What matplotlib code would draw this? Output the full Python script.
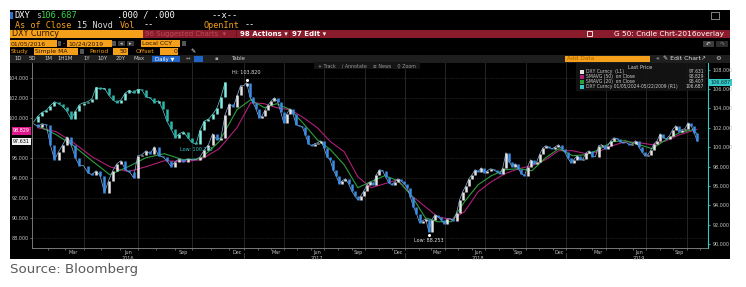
"""Bloomberg-style DXY candle chart, 2016-2019, with the 2009 overlay on the right axis."""
import numpy as np
import pandas as pd
import matplotlib
matplotlib.use("Agg")
import matplotlib.pyplot as plt
import matplotlib.dates as mdates
import matplotlib.transforms as mtransforms
from matplotlib.patches import Rectangle

# ---- data ------------------------------------------------------------------
WEEKS = pd.date_range("2016-01-08", "2019-10-25", freq="W-FRI")

# DXY Curncy weekly closes (left axis, L1)
DXY_CLOSE = [
    99.4, 99.1, 99.4, 99.3, 97.3, 95.8, 96.6, 97.3, 98.1, 97.3,
    96.0, 95.2, 95.2, 94.5, 94.3, 94.7, 94.2, 92.5, 93.7, 94.7,
    95.4, 95.7, 94.8, 94.6, 94.0, 96.2, 96.3, 96.7, 96.4, 97.1,
    96.2, 96.1, 95.7, 95.1, 95.6, 95.9, 95.6, 95.9, 95.8, 95.8,
    96.1, 96.8, 97.3, 98.4, 97.8, 98.0, 100.3, 101.4, 101.1, 102.3,
    103.2, 103.2, 103.5, 102.1, 101.5, 100.9, 100.0, 100.2, 100.8, 101.3,
    101.7, 102.0, 101.6, 100.6, 99.5, 100.4, 100.9, 100.4, 99.3, 99.2,
    99.1, 98.3, 97.4, 97.2, 97.4, 97.5, 97.7, 97.0, 96.1, 95.8,
    94.8, 94.2, 93.4, 93.7, 93.9, 93.4, 92.7, 92.2, 91.8, 92.2,
    92.7, 93.3, 93.6, 93.3, 94.3, 94.8, 94.7, 94.1, 93.5, 93.3,
    93.6, 93.9, 93.7, 93.4, 93.0, 92.1, 91.1, 90.4, 89.5, 89.7,
    89.9, 88.6, 89.8, 90.3, 90.1, 89.8, 89.4, 89.9, 89.9, 89.7,
    90.5, 91.8, 92.6, 93.2, 93.9, 94.3, 94.8, 94.6, 95.0, 94.5,
    94.7, 94.9, 94.8, 94.6, 94.4, 95.0, 96.5, 95.6, 95.1, 95.4,
    94.9, 94.4, 94.2, 95.1, 95.8, 95.4, 95.6, 96.4, 97.0, 97.2,
    97.0, 96.9, 97.1, 97.3, 96.9, 96.6, 96.0, 95.5, 95.8, 96.2,
    95.8, 95.9, 96.5, 96.7, 96.1, 96.1, 97.2, 97.3, 96.9, 97.2,
    97.7, 98.0, 97.9, 97.6, 97.5, 97.5, 97.3, 97.4, 97.7, 97.1,
    96.6, 96.2, 96.3, 96.8, 97.4, 97.7, 98.4, 98.0, 97.9, 98.2,
    98.8, 99.2, 98.6, 98.8, 98.9, 99.5, 99.2, 98.5, 97.631,
]

# DXY 2009 overlay, laid on the first 2016 weeks (right axis, R1)
OVERLAY_CLOSE = [
    102.6, 103.2, 103.6, 103.8, 104.3, 104.7, 104.5, 104.2, 103.7, 102.9,
    103.7, 104.4, 104.6, 104.7, 105.0, 106.2, 106.0, 106.1, 105.4, 104.9,
    104.6, 104.9, 105.6, 105.9, 105.6, 106.0, 105.9, 105.2, 105.1, 104.6,
    104.8, 103.9, 102.7, 101.9, 101.0, 101.4, 101.6, 101.0, 100.5, 100.3,
    101.8, 102.7, 102.9, 103.4, 104.0, 105.2, 106.687,
]

# moving averages, read mid-month plus the last day
SMA_DATES = list(pd.date_range("2016-01-01", "2019-10-01", freq="MS") + pd.Timedelta(days=14)) \
    + [pd.Timestamp("2019-10-24")]
SMA50 = [
    99.0, 98.6, 97.5, 96.1, 95.1, 94.6, 95.1, 95.7, 95.6, 95.8, 96.9, 99.0,
    101.5, 101.4, 101.0, 100.8, 100.0, 99.0, 97.6, 96.6, 94.1, 93.0, 93.4, 93.8,
    92.2, 91.1, 90.1, 89.8, 90.6, 92.6, 93.6, 94.4, 94.9, 95.2, 95.8, 96.7,
    96.7, 96.4, 96.6, 97.2, 97.6, 97.5, 97.3, 97.7, 98.3, 98.7, 98.829,
]
SMA20 = [
    99.2, 98.3, 97.2, 95.7, 94.3, 95.1, 96.0, 96.4, 95.8, 95.9, 97.6, 100.8,
    101.8, 101.0, 101.4, 100.8, 99.4, 97.8, 96.8, 95.3, 93.0, 93.6, 94.2, 93.7,
    92.2, 90.0, 89.6, 89.6, 91.6, 93.3, 94.2, 94.8, 94.9, 94.7, 96.0, 96.9,
    96.2, 96.3, 96.8, 97.6, 97.7, 97.3, 96.9, 97.8, 98.5, 98.8, 98.407,
]

LEFT_TICKS = [88, 90, 92, 94, 96, 98, 100, 102, 104]
RIGHT_TICKS = [90, 92, 94, 96, 98, 100, 102, 104, 106, 108]
MONTHS = {3: "Mar", 6: "Jun", 9: "Sep", 12: "Dec"}
YEARS = [2016, 2017, 2018, 2019]
LEGEND_NAMES = ["DXY Curncy  (L1)", "SMAVG (50)  on Close", "SMAVG (20)  on Close",
                "DXY Curncy 01/05/2024-05/22/2009 (R1)"]
HI_LABEL = "Hi: 103.820"
LO_LABEL = "Low: 88.253"
OVERLAY_LO_LABEL = "Low: 100.253"

# ---- layout (pixels of the 746x287 screenshot) ------------------------------
W, H = 746, 287
AX_L, AX_R, AX_T, AX_B = 32, 708, 63, 248
LEFT_LIM = (86.97, 105.47)
RIGHT_LIM = (89.59, 108.70)

C_UP, C_DOWN = "#e4e4e4", "#3a8de4"
C_OV_UP, C_OV_DOWN = "#86ece4", "#2cb4ac"
C_SMA50, C_SMA20 = "#b01f78", "#2d9e3c"
C_CYAN = "#35c8c8"
ORANGE = "#f5a01a"
DARKRED = "#8a1b2b"
MONO = "DejaVu Sans Mono"
SANS = "DejaVu Sans"
NARROW = ["Liberation Sans Narrow", "DejaVu Sans"]

# Bloomberg squeezes 2017+ tighter than 2016 (the overlay period); piecewise scale in px
T_SPLIT = mdates.date2num(pd.Timestamp("2016-12-15"))
PX_2016, PX_LATER = 0.5946, 0.4409


def fwd(d):
    d = np.asarray(d, dtype=float)
    return np.where(d < T_SPLIT, 237 + (d - T_SPLIT) * PX_2016, 237 + (d - T_SPLIT) * PX_LATER)


def inv(p):
    p = np.asarray(p, dtype=float)
    return np.where(p < 237, T_SPLIT + (p - 237) / PX_2016, T_SPLIT + (p - 237) / PX_LATER)


def fx(x):
    return x / W


def fy(y):
    return 1 - y / H


def box(fig, x0, y0, x1, y1, color, z=-1, **kw):
    fig.add_artist(Rectangle((fx(x0), fy(y1)), (x1 - x0) / W, (y1 - y0) / H,
                             transform=fig.transFigure, facecolor=color,
                             edgecolor=kw.pop("ec", "none"), lw=kw.pop("lw", 0), zorder=z, **kw))


def txt(fig, x, y, s, color="white", size=5, family=SANS, ha="left", z=6, **kw):
    fig.text(fx(x), fy(y), s, color=color, fontsize=size, family=family,
             ha=ha, va="center", zorder=z, **kw)


def candles(ax, x, closes, up_c, down_c, lw, line_c):
    closes = np.asarray(closes, dtype=float)
    opens = np.r_[closes[0], closes[:-1]]
    up = closes >= opens
    ax.plot(x, closes, color=line_c, lw=0.5, zorder=3)
    ax.vlines(x[~up], opens[~up], closes[~up], color=down_c, lw=lw, zorder=3)
    ax.vlines(x[up], opens[up], closes[up], color=up_c, lw=lw, zorder=3)


def header(fig):
    box(fig, 10, 10, 730, 259, "black", z=-2)
    # row 1 / 2 : ticker line
    box(fig, 10, 12, 12.5, 19, "#2f6fd0")
    txt(fig, 14, 15.5, "DXY", size=6.3, family=MONO)
    txt(fig, 36, 15.8, "s", color="#bbbbbb", size=5.6, family=MONO)
    txt(fig, 41, 15.5, "106.687", color="#3ad24c", size=6.3, family=MONO)
    txt(fig, 117, 15.5, ".000 / .000", size=6.3, family=MONO)
    txt(fig, 211, 15.5, "--x--", size=6.3, family=MONO)
    box(fig, 711, 12, 719, 19, "none", z=5, ec="#9a9a9a", lw=0.6)
    txt(fig, 15, 25, "As of Close", color=ORANGE, size=6.1, family=MONO)
    txt(fig, 77, 25, "15 Novd", color="#d8d8d8", size=6.1, family=MONO)
    txt(fig, 120, 25, "Vol", color=ORANGE, size=6.1, family=MONO)
    txt(fig, 144, 25, "--", size=6.1, family=MONO)
    txt(fig, 204, 25, "OpenInt", color=ORANGE, size=6.1, family=MONO)
    txt(fig, 245, 25, "--", size=6.1, family=MONO)
    # row 3 : security / action bar
    box(fig, 10, 29.5, 143, 38, ORANGE)
    txt(fig, 11.5, 33.8, "DXY Curncy", color="#2a1500", size=5.8)
    box(fig, 143, 29.5, 730, 38, DARKRED)
    txt(fig, 145, 33.8, "96 Suggested Charts  \u25be", color="#b84a5a", size=5.0)
    txt(fig, 240, 33.8, "98 Actions \u25be", color="white", size=5.0, weight="bold")
    txt(fig, 292, 33.8, "97 Edit \u25be", color="white", size=5.0, weight="bold")
    box(fig, 236, 30, 237, 37.5, "#6a1020", z=0)
    box(fig, 289, 30, 290, 37.5, "#6a1020", z=0)
    box(fig, 587, 31.3, 592, 36.3, "none", z=5, ec="white", lw=0.6)
    txt(fig, 724, 33.8, "G 50: Cndle Chrt-2016overlay", size=5.3, ha="right")
    # row 4 : date range
    box(fig, 10, 40.5, 57, 46.5, ORANGE)
    txt(fig, 11, 43.5, "01/05/2016", color="#2a1500", size=4.4)
    box(fig, 57.5, 41, 61, 46, "#555555")
    txt(fig, 63, 43.5, "-", color="#cccccc", size=4.4)
    box(fig, 67, 40.5, 112, 46.5, ORANGE)
    txt(fig, 68, 43.5, "10/24/2019", color="#2a1500", size=4.4)
    box(fig, 112.5, 41, 116, 46, "#555555")
    box(fig, 118, 41, 125, 46, "#3a3a3a")
    box(fig, 127, 41, 134, 46, "#3a3a3a")
    txt(fig, 121.5, 43.5, "\u25c2", color="#cccccc", size=3.6, ha="center")
    txt(fig, 130.5, 43.5, "\u25b8", color="#cccccc", size=3.6, ha="center")
    box(fig, 141, 40.5, 180, 46.5, ORANGE)
    txt(fig, 142, 43.5, "Local CCY", color="#2a1500", size=4.4)
    box(fig, 182, 41, 186, 46, "#555555")
    box(fig, 703, 41, 714, 47, "#3c3c3c")
    box(fig, 716, 41, 728, 47, "#2c2c2c")
    txt(fig, 708.5, 44, "\u21b6", color="#dddddd", size=4, ha="center")
    txt(fig, 722, 44, "\u21b7", color="#777777", size=4, ha="center")
    # row 5 : study
    txt(fig, 11, 51.5, "Study", color=ORANGE, size=4.4)
    box(fig, 34, 48.5, 78, 54.5, ORANGE)
    txt(fig, 35, 51.5, "Simple MA", color="#2a1500", size=4.4)
    box(fig, 80, 49, 84, 54, "#555555")
    txt(fig, 89, 51.5, "Period", color=ORANGE, size=4.4)
    box(fig, 113, 48.5, 128, 54.5, ORANGE)
    txt(fig, 127, 51.5, "50", color="#2a1500", size=4.4, ha="right")
    txt(fig, 136, 51.5, "Offset", color=ORANGE, size=4.4)
    box(fig, 160, 48.5, 178, 54.5, ORANGE)
    txt(fig, 177, 51.5, "0", color="#2a1500", size=4.4, ha="right")
    txt(fig, 190, 51.5, "\u270e", color="white", size=4.4)
    # row 6 : toolbar
    box(fig, 10, 55.5, 730, 62.5, "#1e1e1e")
    for x, s in [(14, "1D"), (29, "5D"), (44, "1M"), (57, "1H1M"), (83, "1Y"),
                 (97, "10Y"), (116, "20Y"), (134, "Max")]:
        txt(fig, x, 59, s, color="#cfcfcf", size=3.9)
    box(fig, 152, 56, 180, 62, "#1f64c8")
    txt(fig, 155, 59, "Daily \u25bc", color="white", size=3.9)
    txt(fig, 186, 59, "\u2194", color="#aaaaaa", size=3.9)
    box(fig, 194, 56, 203, 62, "#1f64c8")
    txt(fig, 215, 59, "\u25aa", color="#aaaaaa", size=3.9)
    txt(fig, 231, 59, "Table", color="#cfcfcf", size=3.9)
    box(fig, 565, 56, 650, 62.3, ORANGE)
    txt(fig, 567, 59, "Add Data", color="#a86400", size=4.2)
    txt(fig, 655, 59, "\u00ab", color="#dddddd", size=4.4)
    txt(fig, 663, 59, "\u270e Edit Chart", color="#e0e0e0", size=4.4)
    txt(fig, 700, 59, "\u2197", color="#cccccc", size=4.2)
    txt(fig, 715, 59, "\u2699", color="#cccccc", size=4.6)
    # in-chart toolbar
    box(fig, 314, 62.5, 420, 68.5, "#151515", z=4)
    txt(fig, 318, 65.5, "+ Track    \u2215 Annotate    \u2261 News    \u26b2 Zoom",
        color="#9a9a9a", size=3.4)


def legend(fig):
    box(fig, 576, 63, 706, 91.5, "#141414", z=5, alpha=0.92)
    txt(fig, 640, 67.2, "Last Price", color="#cfcfcf", size=3.6, ha="center", family=NARROW)
    colors = [C_UP, C_SMA50, C_SMA20, C_CYAN]
    values = [DXY_CLOSE[-1], SMA50[-1], SMA20[-1], OVERLAY_CLOSE[-1]]
    for i, (name, c, v) in enumerate(zip(LEGEND_NAMES, colors, values)):
        y = 72 + 4.9 * i
        box(fig, 580, y - 1.8, 584, y + 1.8, c, z=6)
        txt(fig, 586.5, y, name, color="#cfcfcf", size=3.25, z=7, family=NARROW)
        txt(fig, 704, y, "%.3f" % v, color="#cfcfcf", size=3.25, ha="right", z=7, family=NARROW)


def main():
    fig = plt.figure(figsize=(W / 100, H / 100), dpi=100)
    fig.patch.set_facecolor("white")
    header(fig)

    ax = fig.add_axes([fx(AX_L), fy(AX_B), (AX_R - AX_L) / W, (AX_B - AX_T) / H])
    ax.set_facecolor("black")
    ax.set_xscale("function", functions=(fwd, inv))
    ax.set_xlim(float(inv(AX_L)), float(inv(AX_R)))
    ax.set_ylim(*LEFT_LIM)

    xw = mdates.date2num(WEEKS.to_pydatetime())
    xs = mdates.date2num([d.to_pydatetime() for d in SMA_DATES])

    # grid: dotted horizontals, quarter verticals
    for v in LEFT_TICKS:
        ax.axhline(v, color="#3c3c3c", lw=0.5, ls=(0, (1, 1.5)), zorder=1)
    quarters = pd.date_range("2016-04-01", "2019-10-01", freq="QS")
    for q in quarters:
        ax.axvline(mdates.date2num(q.to_pydatetime()), color="#2c2c2c", lw=0.6, zorder=1)

    ax.plot(xs, SMA50, color=C_SMA50, lw=0.8, zorder=2)
    ax.plot(xs, SMA20, color=C_SMA20, lw=0.8, zorder=2)
    candles(ax, xw, DXY_CLOSE, C_UP, C_DOWN, 1.8, "#8fb4e0")

    ax2 = ax.twinx()
    ax2.set_ylim(*RIGHT_LIM)
    candles(ax2, xw[:len(OVERLAY_CLOSE)], OVERLAY_CLOSE, C_OV_UP, C_OV_DOWN, 1.8, "#5fd6cf")

    # hi / low tags
    closes = np.asarray(DXY_CLOSE)
    ih, il = int(np.argmax(closes)), int(np.argmin(closes))
    ax.plot(xw[ih], closes[ih] + 0.3, "o", ms=1.2, color="white", zorder=4)
    ax.text(xw[ih], closes[ih] + 0.75, HI_LABEL, color="#dddddd", fontsize=3.5,
            ha="center", va="bottom", zorder=4)
    ax.plot(xw[il], closes[il] - 0.3, "o", ms=1.2, color="white", zorder=4)
    ax.text(xw[il], closes[il] - 0.65, LO_LABEL, color="#dddddd", fontsize=3.5,
            ha="center", va="top", zorder=4)
    ov = np.asarray(OVERLAY_CLOSE)
    io = int(np.argmin(ov))
    ax2.text(xw[io], ov[io] - 0.25, OVERLAY_LO_LABEL, color=C_CYAN, fontsize=3.5,
             ha="center", va="top", zorder=4)

    # axes styling
    for a in (ax, ax2):
        for s in a.spines.values():
            s.set_visible(False)
    ax.spines["left"].set_visible(True)
    ax.spines["left"].set_color("#8a8a8a")
    ax.spines["left"].set_linewidth(0.6)
    ax.spines["bottom"].set_visible(True)
    ax.spines["bottom"].set_color("#8a8a8a")
    ax.spines["bottom"].set_linewidth(0.6)
    ax2.spines["right"].set_visible(True)
    ax2.spines["right"].set_color(C_CYAN)
    ax2.spines["right"].set_linewidth(0.8)

    # the 98 label sits under the last-price tags in the original
    ax.set_yticks(LEFT_TICKS)
    ax.set_yticklabels(["" if v == 98 else "%.3f" % v for v in LEFT_TICKS])
    ax.tick_params(axis="y", colors="#8a8a8a", labelcolor="#c4c4c4", labelsize=3.5,
                   length=1.6, width=0.5, pad=1)
    ax2.set_yticks(RIGHT_TICKS)
    ax2.set_yticklabels(["%.3f" % v for v in RIGHT_TICKS])
    ax2.tick_params(axis="y", colors=C_CYAN, labelcolor="#c4c4c4", labelsize=3.5,
                    length=1.6, width=0.6, pad=1.5)

    ticks, labels = [], []
    for yr in YEARS:
        for m, name in MONTHS.items():
            d = pd.Timestamp(yr, m, 15)
            if d <= pd.Timestamp("2019-10-24"):
                ticks.append(mdates.date2num(d.to_pydatetime()))
                labels.append(name)
    ax.set_xticks(ticks)
    ax.set_xticklabels(labels)
    months = pd.date_range("2016-02-01", "2019-11-01", freq="MS")
    ax.set_xticks(mdates.date2num(months.to_pydatetime()), minor=True)
    ax.tick_params(axis="x", which="major", length=0, labelsize=3.5,
                   labelcolor="#c4c4c4", pad=1.2)
    ax.tick_params(axis="x", which="minor", length=1.4, width=0.5, colors="#8a8a8a")

    trans = mtransforms.blended_transform_factory(ax.transData, ax.transAxes)
    for yr in YEARS:
        xm = mdates.date2num(pd.Timestamp(yr, 6, 15).to_pydatetime())
        ax.text(xm, -0.045, str(yr), transform=trans, color="#c4c4c4", fontsize=3.5,
                ha="center", va="top", clip_on=False)
        if yr > YEARS[0]:
            xj = mdates.date2num(pd.Timestamp(yr, 1, 1).to_pydatetime())
            ax.plot([xj, xj], [-0.025, -0.055], transform=trans, color="#5a5a5a",
                    lw=0.5, clip_on=False)

    # last-price tags
    ltrans = mtransforms.blended_transform_factory(ax.transAxes, ax.transData)
    ax.text(-0.003, SMA50[-1] - 0.15, "%.3f" % SMA50[-1], transform=ltrans, ha="right",
            va="center", fontsize=3.5, color="white", clip_on=False, zorder=6,
            bbox=dict(boxstyle="square,pad=0.25", fc="#e0148c", ec="none"))
    ax.text(-0.003, DXY_CLOSE[-1], "%.3f" % DXY_CLOSE[-1], transform=ltrans, ha="right",
            va="center", fontsize=3.5, color="black", clip_on=False, zorder=6,
            bbox=dict(boxstyle="square,pad=0.25", fc="#f2f2f2", ec="none"))
    rtrans = mtransforms.blended_transform_factory(ax2.transAxes, ax2.transData)
    ax2.text(1.004, OVERLAY_CLOSE[-1], "%.3f" % OVERLAY_CLOSE[-1], transform=rtrans,
             ha="left", va="center", fontsize=3.5, color="#0a2a2a", clip_on=False, zorder=6,
             bbox=dict(boxstyle="square,pad=0.25", fc=C_CYAN, ec="none"))

    legend(fig)

    fig.text(fx(10), fy(269), "Source: Bloomberg", color="#5a5a5a", fontsize=9.6,
             family=NARROW, ha="left", va="center")

    fig.savefig("out.png", dpi=100, facecolor="white")


if __name__ == "__main__":
    main()
